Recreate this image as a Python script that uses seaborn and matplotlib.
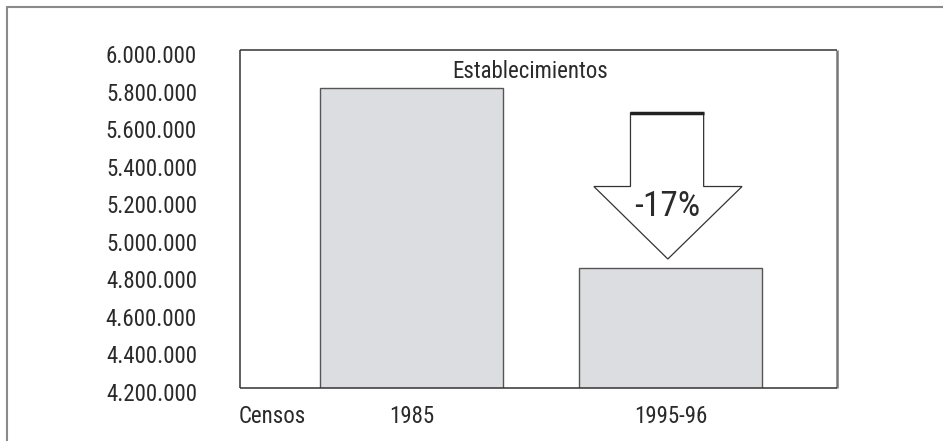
import matplotlib
matplotlib.use("Agg")
import matplotlib.pyplot as plt
import matplotlib.transforms as mtransforms
from matplotlib.lines import Line2D
from matplotlib.patches import Polygon
from matplotlib.ticker import FuncFormatter, MultipleLocator
import pandas as pd
import seaborn as sns

# chart data
censos = ["1985", "1995-96"]
establecimientos = [5800000, 4840000]
cambio_label = "-17%"
titulo = "Establecimientos"
x_label = "Censos"

sns.set_theme(style="white")
plt.rcParams["font.family"] = ["Roboto Condensed", "Archivo Narrow", "Liberation Sans", "DejaVu Sans"]

df = pd.DataFrame({"Censo": censos, "Establecimientos": establecimientos})

fig = plt.figure(figsize=(9.43, 4.41), dpi=100)
ax = fig.add_axes([240 / 943, 53 / 441, 597 / 943, 338 / 441])

sns.barplot(data=df, x="Censo", y="Establecimientos", ax=ax, color="#dcdde0",
            edgecolor="#555555", linewidth=1.0, width=0.705, saturation=1)

ax.set_ylim(4200000, 6000000)
ax.set_xlim(-0.661, 1.64)
ax.yaxis.set_major_locator(MultipleLocator(200000))
ax.yaxis.set_major_formatter(FuncFormatter(lambda v, p: f"{int(v):,}".replace(",", ".")))
ax.tick_params(axis="y", length=0, pad=31, labelsize=16.5, labelcolor="#2a2a2a")
ax.tick_params(axis="x", length=0, pad=12, labelsize=16.5, labelcolor="#2a2a2a")
ax.set_xlabel("")
ax.set_ylabel("")

# move y labels slightly down as in the original
offset = mtransforms.ScaledTranslation(0, -4 / 100, fig.dpi_scale_trans)
for lab in ax.get_yticklabels():
    lab.set_transform(lab.get_transform() + offset)

for side, sp in ax.spines.items():
    sp.set_visible(True)
    sp.set_color("#333333")
    sp.set_linewidth(1.1)
    sp.set_capstyle("butt")
ax.spines["right"].set_color("#777777")
ax.spines["right"].set_linewidth(1.8)

ax.text(0.486, 0.935, titulo, transform=ax.transAxes, ha="center", va="center",
        fontsize=16.5, color="#2a2a2a")
ax.annotate(x_label, xy=(0, 0), xycoords="axes fraction", xytext=(-1, -12),
            textcoords="offset points", ha="left", va="top", fontsize=16.5, color="#2a2a2a")

# downward arrow between the two bars
v1, v2 = establecimientos
top = v1 - 134000
shoulder = v1 - 527000
tip = v2 + 47000
arrow = Polygon([(0.844, top), (1.126, top), (1.126, shoulder), (1.274, shoulder),
                 (0.988, tip), (0.703, shoulder), (0.844, shoulder)],
                closed=True, facecolor="white", edgecolor="#333333", linewidth=0.9, zorder=3)
ax.add_patch(arrow)
ax.plot([0.844, 1.126], [top, top], color="#222222", linewidth=2.5, zorder=4,
        solid_capstyle="butt")
ax.text(0.985, 5164000, cambio_label, ha="center", va="center", fontsize=25.5,
        color="#2a2a2a", zorder=5)

# outer frame of the figure (top and left only visible)
fig.add_artist(Line2D([7 / 943, 1], [1 - 7 / 441, 1 - 7 / 441], color="#8a8a8a",
                      linewidth=1.5, transform=fig.transFigure))
fig.add_artist(Line2D([7 / 943, 7 / 943], [0, 1 - 7 / 441], color="#8a8a8a",
                      linewidth=1.5, transform=fig.transFigure))

fig.savefig("out.png", dpi=100)
